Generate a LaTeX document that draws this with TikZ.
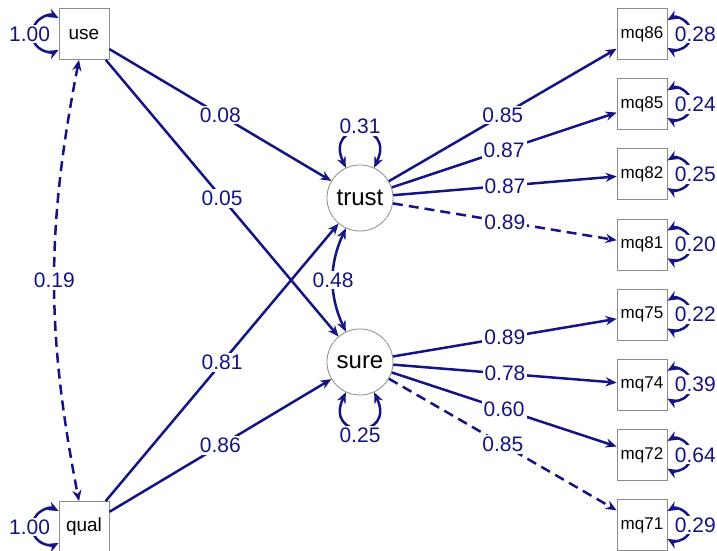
\documentclass[tikz,border=0pt]{standalone}
\usepackage{fontspec}
\setmainfont{Liberation Sans}
\usepackage{tikz}
\usetikzlibrary{arrows.meta, shapes, positioning}
\definecolor{pathblue}{RGB}{20,20,130}

\begin{document}
\begin{tikzpicture}[
            x = 0.5pt, y = 0.5pt,
            ->,
            > = {Stealth[length=5.5pt, width=4.6pt]},
            color = pathblue,
            line width = 1.25pt,
            node distance = 35.07pt,
            on grid,
            obs/.style = {rectangle, draw = gray!90, thin, text = black,
                minimum width = 25pt, minimum height = 25.5pt, inner sep = 0pt,
                font = \fontsize{8.5}{10}\selectfont},
            lat/.style = {circle, draw = gray!90, thin, text = black,
                minimum size = 33pt, inner sep = 0pt,
                font = \fontsize{12}{14}\selectfont},
            lab/.style = {fill = white, inner sep = 1pt, text = pathblue,
                font = \fontsize{10.5}{12}\selectfont},
            cov/.style = {<->, dash pattern = on 5pt off 3pt}
        ]
        \useasboundingbox (0,0) rectangle (717,551);

        \node[obs, font = \fontsize{9.5}{11}\selectfont] (use) at (84,517) {use};
        \node[obs, font = \fontsize{9.5}{11}\selectfont, below=246.5pt of use] (qual) {qual};
        \node[lat] (trust) at (360,353) {trust};
        \node[lat, below=82pt of trust] (sure) {sure};
        \node[obs] (mq86) at (642,517) {mq86};
        \node[obs, below=of mq86] (mq85) {mq85};
        \node[obs, below=of mq85] (mq82) {mq82};
        \node[obs, below=of mq82] (mq81) {mq81};
        \node[obs, below=of mq81] (mq75) {mq75};
        \node[obs, below=of mq75] (mq74) {mq74};
        \node[obs, below=of mq74] (mq72) {mq72};
        \node[obs, below=of mq72] (mq71) {mq71};

        \path (use) edge node[lab] {0.08} (trust);
        \path (use) edge node[lab] {0.05} (sure);
        \path (qual) edge node[lab] {0.81} (trust);
        \path (qual) edge node[lab] {0.86} (sure);
        \path (use) edge[cov, bend right=11] node[lab] {0.19} (qual);
        \path (trust) edge[<->, bend right=25] node[lab] {0.48} (sure);

        \path (trust) edge node[lab] {0.85} (mq86);
        \path (trust) edge node[lab] {0.87} (mq85);
        \path (trust) edge node[lab] {0.87} (mq82);
        \path (trust) edge[dash pattern = on 5pt off 3pt] node[lab] {0.89} (mq81);
        \path (sure) edge node[lab] {0.89} (mq75);
        \path (sure) edge node[lab] {0.78} (mq74);
        \path (sure) edge node[lab] {0.60} (mq72);
        \path (sure) edge[dash pattern = on 5pt off 3pt] node[lab] {0.85} (mq71);

        % residual variances
        \draw[<->] (trust.115) .. controls +(115:52) and +(65:52) .. (trust.65)
            node[lab, midway, yshift=3pt] {0.31};
        \draw[<->] (sure.-115) .. controls +(-115:52) and +(-65:52) .. (sure.-65)
            node[lab, midway, yshift=-4pt] {0.25};

        \draw[<->] ([yshift=7.95pt]use.west) arc[start angle=62, end angle=298, radius=9pt];
        \node[lab] at ([xshift=-14.5pt]use.west) {1.00};
        \draw[<->] ([yshift=7.95pt]qual.west) arc[start angle=62, end angle=298, radius=9pt];
        \node[lab] at ([xshift=-14.5pt]qual.west) {1.00};

        \draw[<->] ([yshift=6.93pt]mq86.east) arc[start angle=120, end angle=-120, radius=8pt];
        \node[lab] at ([xshift=14pt]mq86.east) {0.28};
        \draw[<->] ([yshift=6.93pt]mq85.east) arc[start angle=120, end angle=-120, radius=8pt];
        \node[lab] at ([xshift=14pt]mq85.east) {0.24};
        \draw[<->] ([yshift=6.93pt]mq82.east) arc[start angle=120, end angle=-120, radius=8pt];
        \node[lab] at ([xshift=14pt]mq82.east) {0.25};
        \draw[<->] ([yshift=6.93pt]mq81.east) arc[start angle=120, end angle=-120, radius=8pt];
        \node[lab] at ([xshift=14pt]mq81.east) {0.20};
        \draw[<->] ([yshift=6.93pt]mq75.east) arc[start angle=120, end angle=-120, radius=8pt];
        \node[lab] at ([xshift=14pt]mq75.east) {0.22};
        \draw[<->] ([yshift=6.93pt]mq74.east) arc[start angle=120, end angle=-120, radius=8pt];
        \node[lab] at ([xshift=14pt]mq74.east) {0.39};
        \draw[<->] ([yshift=6.93pt]mq72.east) arc[start angle=120, end angle=-120, radius=8pt];
        \node[lab] at ([xshift=14pt]mq72.east) {0.64};
        \draw[<->] ([yshift=6.93pt]mq71.east) arc[start angle=120, end angle=-120, radius=8pt];
        \node[lab] at ([xshift=14pt]mq71.east) {0.29};
    \end{tikzpicture}
\end{document}
